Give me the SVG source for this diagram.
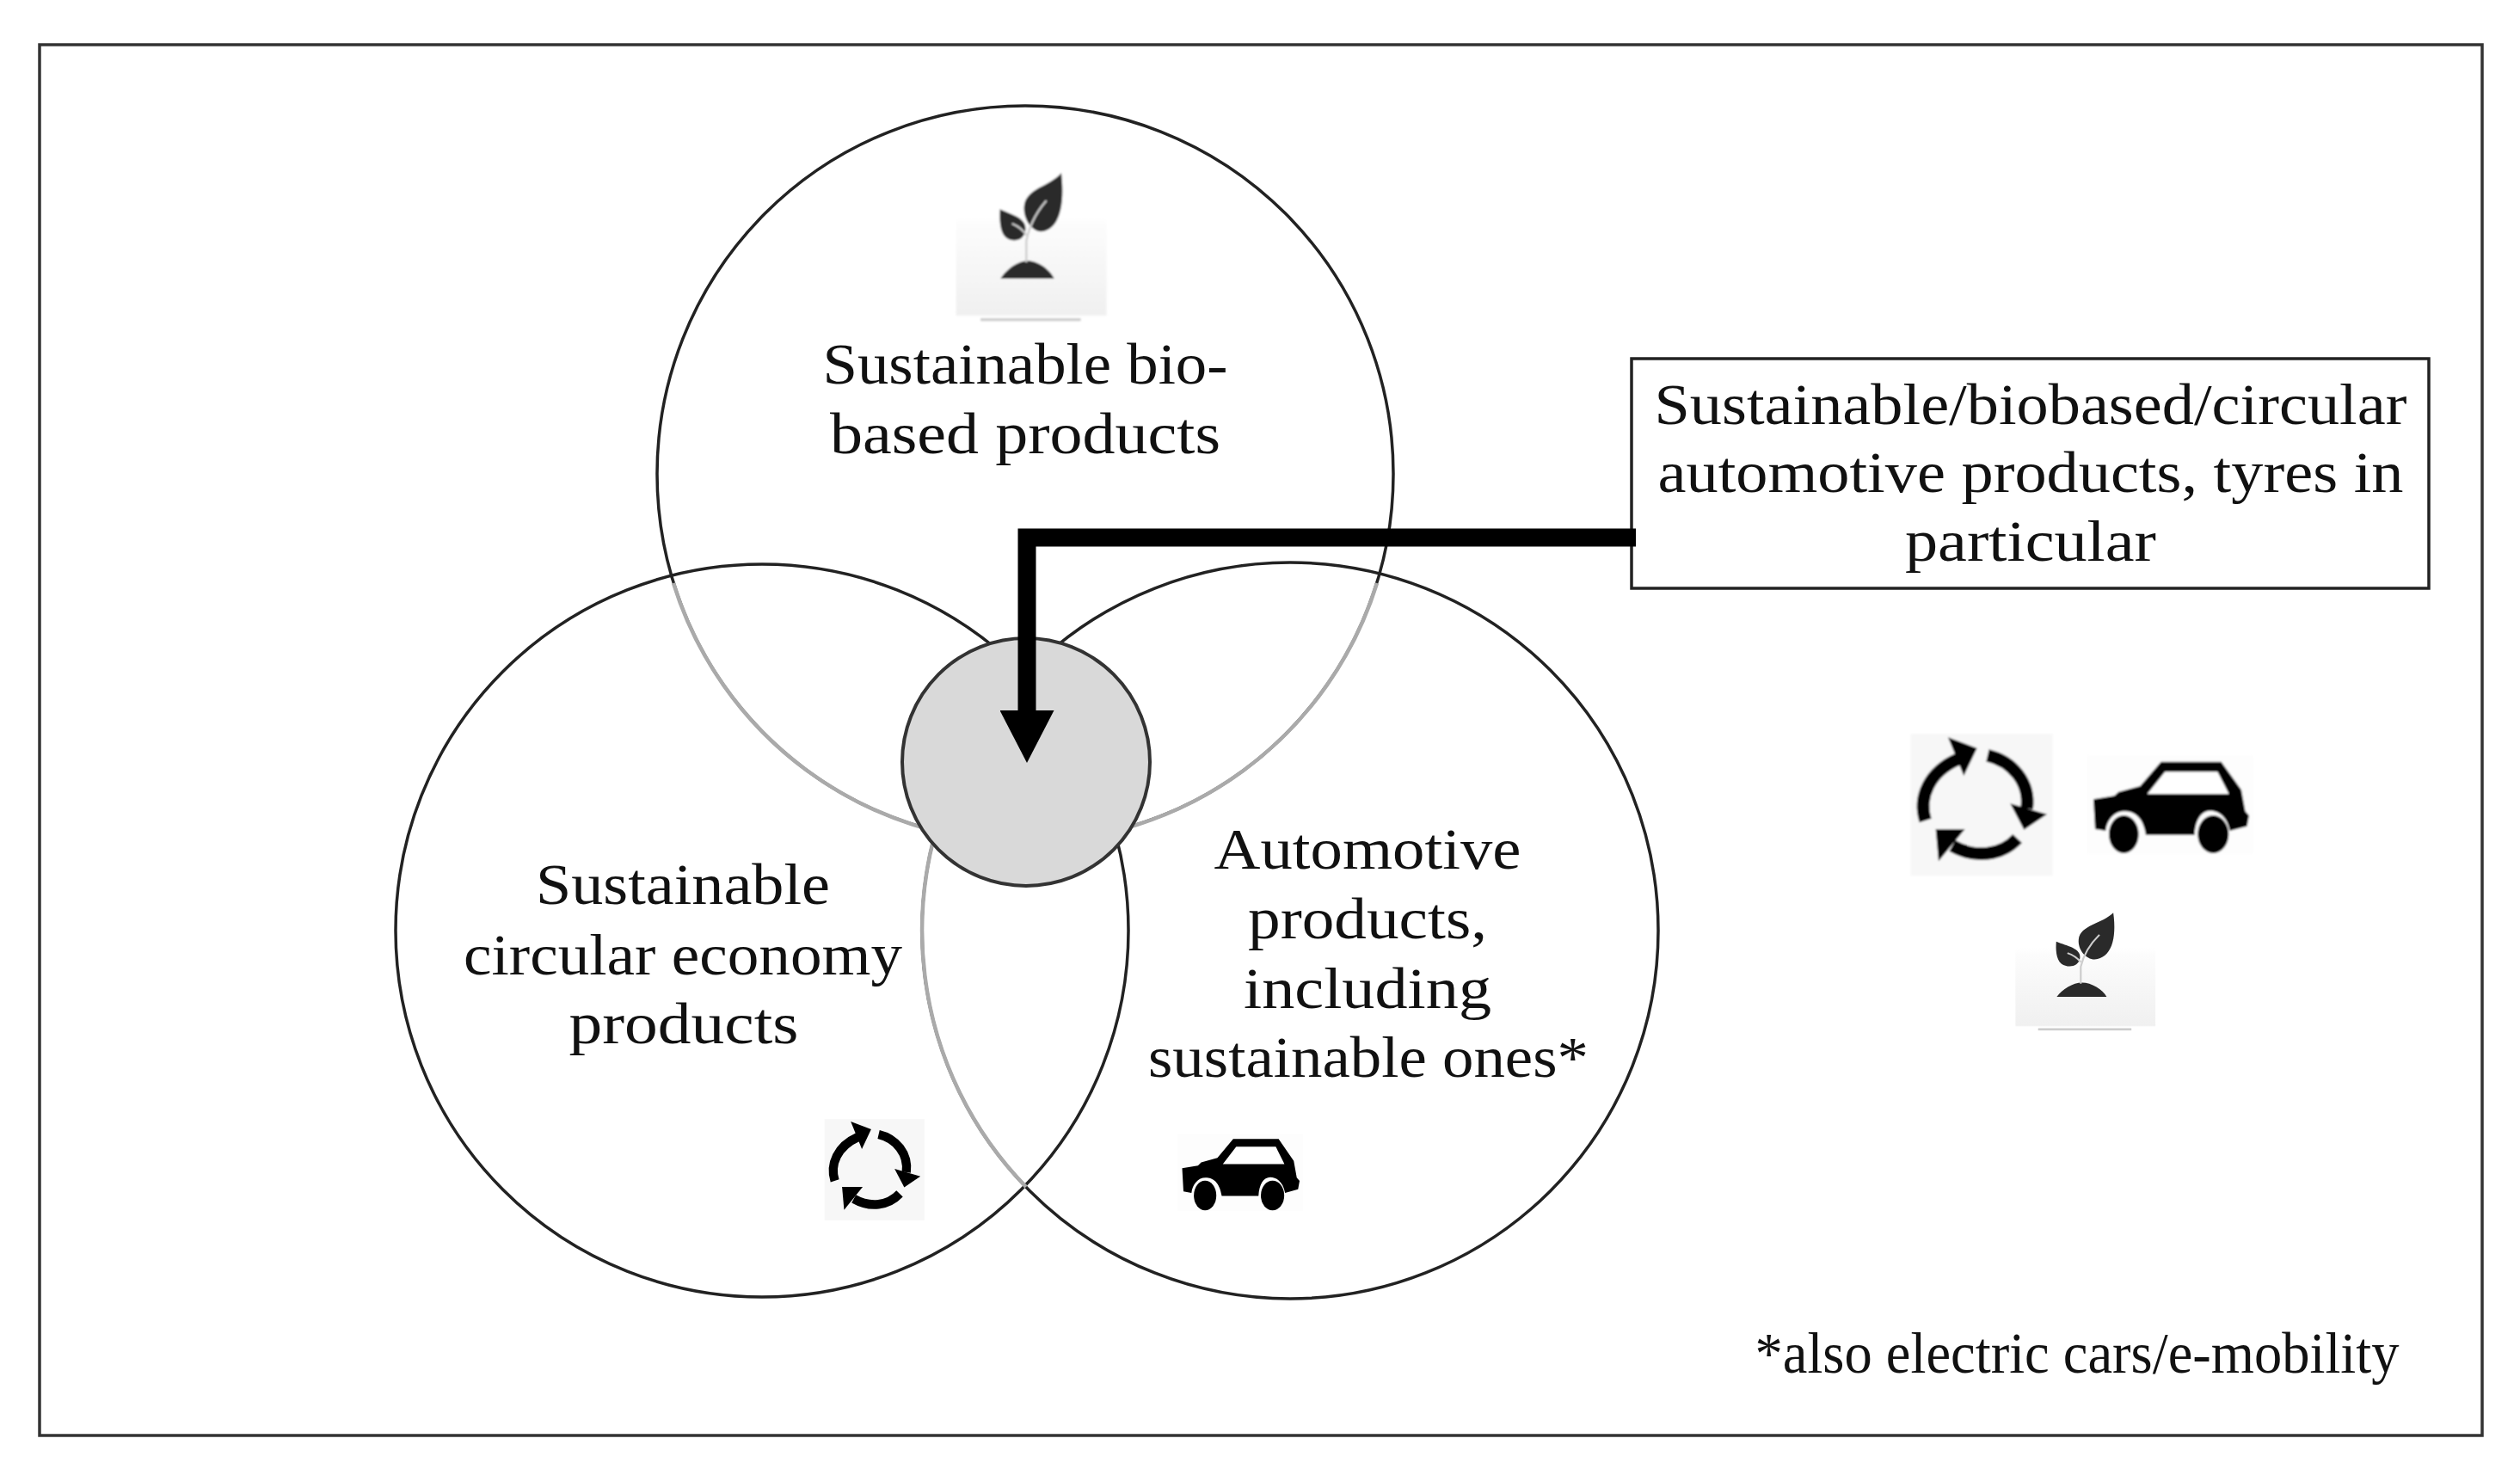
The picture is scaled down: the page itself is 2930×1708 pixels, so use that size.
<svg xmlns="http://www.w3.org/2000/svg" width="2930" height="1708" viewBox="0 0 2930 1708">
<style>
.t{font-family:"Liberation Serif","DejaVu Serif",serif;font-size:68px;fill:#111;text-anchor:middle}
.c{fill:none;stroke:#222;stroke-width:3.5}
.f{fill:none;stroke:#aaa;stroke-width:4.5}
.leaf{fill:#2b2b2b}
.arc{fill:none;stroke:#000;stroke-width:44}
</style>
<defs>
<filter id="soft" x="-5%" y="-5%" width="110%" height="110%"><feGaussianBlur stdDeviation="2.5"/></filter>
<linearGradient id="bgGrad" x1="0" y1="0" x2="0" y2="1">
<stop offset="0" stop-color="#fff"/><stop offset="0.42" stop-color="#fff"/><stop offset="0.47" stop-color="#fcfcfc"/><stop offset="0.95" stop-color="#f0f0f0"/><stop offset="0.96" stop-color="#fff"/>
</linearGradient>
<marker id="head" markerUnits="userSpaceOnUse" viewBox="0 0 61 63" markerWidth="61" markerHeight="63" refX="0" refY="31.5" orient="auto">
<path d="M0,0 L61,31.5 L0,63 Z" fill="#000"/>
</marker>
<g id="plant" filter="url(#soft)">
<rect x="155" y="65" width="525" height="645" fill="url(#bgGrad)"/>
<path class="leaf" d="M522,183 C480,232 398,236 392,300 C388,345 420,388 452,388 C514,382 536,300 522,183 Z"/>
<path class="leaf" d="M308,310 C350,330 402,340 397,382 C392,424 350,426 328,408 C306,388 306,340 308,310 Z"/>
<path class="leaf" d="M310,552 C330,520 370,490 405,490 C440,490 482,520 497,552 Z"/>
<path d="M400,495 L400,420 C410,370 435,320 470,280 M400,400 C390,385 375,370 350,360" fill="none" stroke="#ccc" stroke-width="7"/>
<path class="leaf" d="M396,495 L404,495 L404,470 L396,470 Z" opacity="0"/>
<rect x="240" y="690" width="350" height="10" fill="#ccc"/>
</g>
<g id="recycle" filter="url(#soft)">
<rect x="125" y="100" width="495" height="495" fill="#f7f7f7"/>
<path class="arc" d="M176,402 C150,320 190,232 290,188"/>
<path d="M255,112 L356,150 L310,246 Z"/>
<path class="arc" d="M393,175 C480,195 542,270 530,360"/>
<path d="M472,343 L600,380 L520,434 Z"/>
<path class="arc" d="M497,465 C440,525 350,535 270,490"/>
<path d="M212,432 L314,432 L222,544 Z"/>
</g>
<g id="car" filter="url(#soft)">
<rect x="740" y="175" width="580" height="345" fill="#fdfdfd"/>
<path d="M762,328 L835,316 L850,302 L925,282 L998,197 L1208,197 L1278,295 L1292,370 L1305,385 L1298,422 L1238,438 C1228,385 1195,368 1170,368 C1138,368 1118,400 1115,452 L945,452 C935,390 905,370 870,370 C835,370 810,400 805,438 L768,432 Z"/>
<path d="M1012,232 L1195,232 L1235,310 L950,310 Z" fill="#fff"/>
<ellipse cx="868" cy="450" rx="52" ry="66"/>
<ellipse cx="1180" cy="450" rx="54" ry="66"/>
</g>
</defs>
<rect width="2930" height="1708" fill="#fff"/>
<rect id="frame" x="46" y="52" width="2840" height="1617" fill="none" stroke="#333" stroke-width="3.5"/>

<g id="node-biobased">
<circle class="c" cx="1192" cy="551" r="428"/>
<path class="f" d="M783,678 A428,428 0 0 0 1192,979 A428,428 0 0 0 1601,678"/>
<use href="#plant" transform="translate(1060,140) scale(0.3333)"/>
<text class="t" x="1192" y="446" textLength="471" lengthAdjust="spacingAndGlyphs">Sustainable bio-</text>
<text class="t" x="1192" y="527" textLength="454" lengthAdjust="spacingAndGlyphs">based products</text>
</g>
<g id="node-circular">
<circle class="c" cx="886" cy="1082" r="426"/>
<use href="#recycle" transform="translate(957.5,1300) scale(0.2347,0.2376) translate(-120,-95)"/>
<text class="t" x="794" y="1051" textLength="342" lengthAdjust="spacingAndGlyphs">Sustainable</text>
<text class="t" x="794" y="1133" textLength="510" lengthAdjust="spacingAndGlyphs">circular economy</text>
<text class="t" x="795" y="1213" textLength="267" lengthAdjust="spacingAndGlyphs">products</text>
</g>
<g id="node-automotive">
<circle class="c" cx="1500" cy="1082" r="428"/>
<path class="f" d="M1129,868.6 A428,428 0 0 0 1193,1380"/>
<use href="#car" transform="translate(1374,1325) scale(0.2514,0.26) translate(-760,-200)"/>
<text class="t" x="1590" y="1010" textLength="357" lengthAdjust="spacingAndGlyphs">Automotive</text>
<text class="t" x="1590" y="1091" textLength="278" lengthAdjust="spacingAndGlyphs">products,</text>
<text class="t" x="1590" y="1172" textLength="288" lengthAdjust="spacingAndGlyphs">including</text>
<text class="t" x="1591" y="1252" textLength="512" lengthAdjust="spacingAndGlyphs">sustainable ones*</text>
</g>
<g id="node-center">
<circle cx="1193" cy="886" r="144" fill="#d9d9d9" stroke="#333" stroke-width="4"/>
</g>
<g id="node-label">
<rect x="1897" y="417" width="927" height="267" fill="#fff" stroke="#222" stroke-width="3.5"/>
<text class="t" x="2361" y="493" textLength="875" lengthAdjust="spacingAndGlyphs">Sustainable/biobased/circular</text>
<text class="t" x="2361" y="572" textLength="867" lengthAdjust="spacingAndGlyphs">automotive products, tyres in</text>
<text class="t" x="2361" y="652" textLength="292" lengthAdjust="spacingAndGlyphs">particular</text>
</g>
<g id="connectors">
<path d="M1902,625 H1194 V826" fill="none" stroke="#000" stroke-width="21" marker-end="url(#head)"/>
</g>
<g id="legend-icons">
<use href="#recycle" transform="translate(2180,820) scale(0.3333)"/>
<use href="#car" transform="translate(2180,820) scale(0.3333)"/>
<use href="#plant" transform="translate(2180,820) scale(0.3333) translate(346,578) scale(0.93,0.795)"/>
</g>
<text id="footnote" class="t" x="2415" y="1596" textLength="749" lengthAdjust="spacingAndGlyphs">*also electric cars/e-mobility</text>
</svg>
